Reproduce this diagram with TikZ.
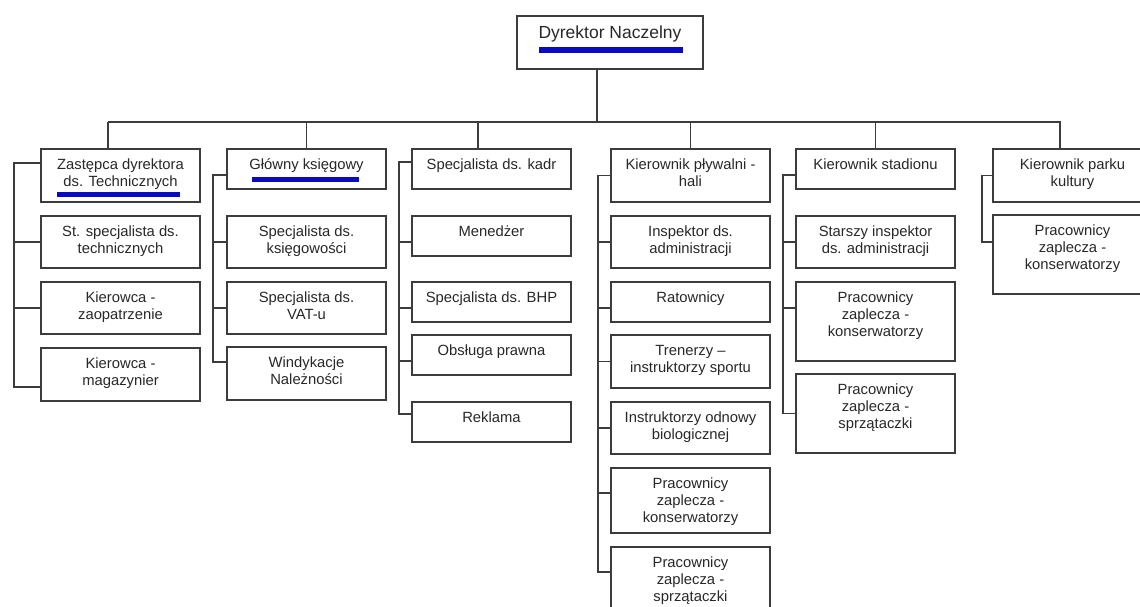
\documentclass[tikz,border=0pt]{standalone}
\usepackage{fontspec}
\setmainfont{Liberation Sans}
\definecolor{boxgray}{RGB}{60,60,60}
\definecolor{linkgray}{RGB}{60,60,60}
\definecolor{textgray}{RGB}{40,40,40}
\definecolor{barblue}{RGB}{10,10,195}
\newcommand\orgfont{\fontsize{14.8}{17}\selectfont}
% top-aligned, centred cell text of a given height
\newcommand\cell[2]{\parbox[c][#1pt][t]{159pt}{\centering\rule{0pt}{20pt}#2}}
\tikzset{
  unit/.style={draw=boxgray, line width=1.4pt, inner sep=0pt, outer sep=0pt,
               anchor=north west, font=\orgfont, text=textgray, fill=white},
  link/.style={draw=linkgray, line width=1.4pt},
}
\begin{document}
\begin{tikzpicture}[x=1pt,y=-1pt]
\useasboundingbox (0,0) rectangle (1140,606);
\clip (0,0) rectangle (1140,606);
\fill[white] (0,0) rectangle (1140,606);

% director
\node[unit] (dn) at (517,16) {\parbox[c][53pt][t]{186pt}{\centering\fontsize{17.5}{20}\selectfont\rule{0pt}{22pt}Dyrektor Naczelny}};
\fill[barblue] (539,47) rectangle (683,53);

% column 1
\node[unit] (c1)  at (41,149) {\cell{53}{Zastępca dyrektora\\ds. Technicznych}};
\node[unit] (c1a) at (41,216) {\cell{52}{St. specjalista ds.\\technicznych}};
\node[unit] (c1b) at (41,282) {\cell{52}{Kierowca -\\zaopatrzenie}};
\node[unit] (c1c) at (41,348) {\cell{53}{Kierowca -\\magazynier}};
\fill[barblue] (57,192) rectangle (180,197);

% column 2
\node[unit] (c2)  at (227,149) {\cell{40}{Główny księgowy}};
\node[unit] (c2a) at (227,216) {\cell{52}{Specjalista ds.\\księgowości}};
\node[unit] (c2b) at (227,282) {\cell{52}{Specjalista ds.\\VAT-u}};
\node[unit] (c2c) at (227,347) {\cell{53}{Windykacje\\Należności}};
\fill[barblue] (252,177) rectangle (359,182);

% column 3
\node[unit] (c3)  at (412,149) {\cell{40}{Specjalista ds. kadr}};
\node[unit] (c3a) at (412,216) {\cell{40}{Menedżer}};
\node[unit] (c3b) at (412,282) {\cell{40}{Specjalista ds. BHP}};
\node[unit] (c3c) at (412,335) {\cell{40}{Obsługa prawna}};
\node[unit] (c3d) at (412,402) {\cell{40}{Reklama}};

% column 4
\node[unit] (c4)  at (611,149) {\cell{53}{Kierownik pływalni -\\hali}};
\node[unit] (c4a) at (611,216) {\cell{52}{Inspektor ds.\\administracji}};
\node[unit] (c4b) at (611,282) {\cell{40}{Ratownicy}};
\node[unit] (c4c) at (611,335) {\cell{53}{Trenerzy –\\instruktorzy sportu}};
\node[unit] (c4d) at (611,402) {\cell{52}{Instruktorzy odnowy\\biologicznej}};
\node[unit] (c4e) at (611,468) {\cell{65}{Pracownicy\\zaplecza -\\konserwatorzy}};
\node[unit] (c4f) at (611,547) {\cell{65}{Pracownicy\\zaplecza -\\sprzątaczki}};

% column 5
\node[unit] (c5)  at (796,149) {\cell{40}{Kierownik stadionu}};
\node[unit] (c5a) at (796,216) {\cell{52}{Starszy inspektor\\ds. administracji}};
\node[unit] (c5b) at (796,282) {\cell{79}{Pracownicy\\zaplecza -\\konserwatorzy}};
\node[unit] (c5c) at (796,374) {\cell{79}{Pracownicy\\zaplecza -\\sprzątaczki}};

% column 6
\node[unit] (c6)  at (993,149) {\cell{53}{Kierownik parku\\kultury}};
\node[unit] (c6a) at (993,215) {\cell{79}{Pracownicy\\zaplecza -\\konserwatorzy}};

% bus from the director to the column heads
\coordinate (busL) at (108,122);
\coordinate (busR) at (1061,122);
\draw[link] (busL) -- (busR);
\draw[link] ([xshift=-13pt]dn.south) -- ([xshift=-13pt]dn.south |- busL);
\draw[link] ([xshift=-12.5pt]c1.north) -- ([xshift=-12.5pt]c1.north |- busL);
\draw[link] (c2.north) -- (c2.north |- busL);
\draw[link] ([xshift=-13.5pt]c3.north) -- ([xshift=-13.5pt]c3.north |- busL);
\draw[link] (c4.north) -- (c4.north |- busL);
\draw[link] (c5.north) -- (c5.north |- busL);
\draw[link] ([xshift=-12.5pt]c6.north) -- ([xshift=-12.5pt]c6.north |- busL);

% column 1 tree
\draw[link] ([yshift=12.5pt]c1.west) -- ++(-27,0) |- ([yshift=-12.5pt]c1c.west);
\draw[link] (c1a.west) -- ++(-27,0);
\draw[link] (c1b.west) -- ++(-27,0);

% column 2 tree
\draw[link] ([yshift=-6pt]c2.west) -- ++(-14,0) |- ([yshift=11.5pt]c2c.west);
\draw[link] (c2a.west) -- ++(-14,0);
\draw[link] (c2b.west) -- ++(-14,0);

% column 3 tree
\draw[link] ([yshift=7pt]c3.west) -- ++(-13,0) |- ([yshift=8pt]c3d.west);
\draw[link] ([yshift=-6pt]c3a.west) -- ++(-13,0);
\draw[link] ([yshift=-6pt]c3b.west) -- ++(-13,0);
\draw[link] ([yshift=-6pt]c3c.west) -- ++(-13,0);

% column 4 tree
\draw[link] (c4.west) -- ++(-13,0) |- ([yshift=7.5pt]c4f.west);
\draw[link] (c4a.west) -- ++(-13,0);
\draw[link] ([yshift=-6pt]c4b.west) -- ++(-13,0);
\draw[link] (c4c.west) -- ++(-13,0);
\draw[link] (c4d.west) -- ++(-13,0);
\draw[link] ([yshift=7.5pt]c4e.west) -- ++(-13,0);

% column 5 tree
\draw[link] ([yshift=-6pt]c5.west) -- ++(-13,0) |- (c5c.west);
\draw[link] (c5a.west) -- ++(-13,0);
\draw[link] ([yshift=13.5pt]c5b.west) -- ++(-13,0);

% column 6 tree
\draw[link] (c6.west) -- ++(-11,0) |- ([yshift=12.5pt]c6a.west);
\end{tikzpicture}
\end{document}
